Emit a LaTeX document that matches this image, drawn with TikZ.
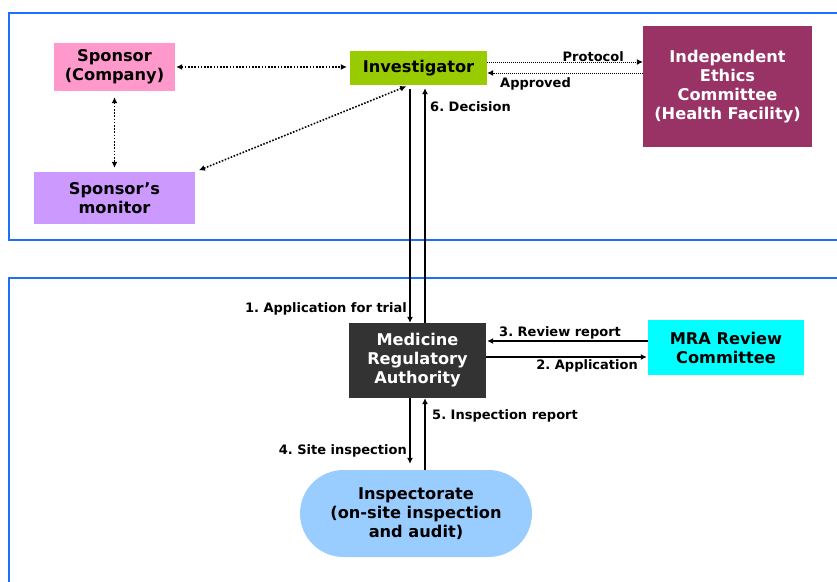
\documentclass[tikz,border=0pt]{standalone}
\usepackage{fontspec}
\setmainfont{DejaVu Sans}
\usetikzlibrary{arrows.meta}
\frenchspacing
\definecolor{frameblue}{RGB}{31,111,255}
\definecolor{sponsorpink}{HTML}{FF99CC}
\definecolor{monitorlilac}{HTML}{CC99FF}
\definecolor{invgreen}{HTML}{99CC00}
\definecolor{iecplum}{HTML}{993366}
\definecolor{mradark}{HTML}{333333}
\definecolor{reviewcyan}{HTML}{00FFFF}
\definecolor{inspblue}{HTML}{99CCFF}
\begin{document}
\begin{tikzpicture}[x=1pt,y=-1pt,
  box/.style={inner sep=0pt, align=center,
    font=\fontsize{16.2}{19}\selectfont\bfseries},
  lbl/.style={inner sep=0pt, font=\fontsize{13}{15}\selectfont\bfseries},
  tip/.style={-{Latex[length=6pt,width=6pt]}},
  dualtip/.style={{Latex[length=6pt,width=6pt]}-{Latex[length=6pt,width=6pt]}},
  heavydots/.style={dualtip, line width=1.6pt, dash pattern=on 1.6pt off 1.6pt},
  finedots/.style={tip, line width=0.9pt, dash pattern=on 1pt off 1pt},
  flow/.style={tip, line width=1.1pt},
  frame/.style={draw=frameblue, line width=2pt}]
\useasboundingbox (0,0) rectangle (837,581);

% two swim-lane frames (open to the right)
\draw[frame] (9,13) rectangle (860,240);
\draw[frame] (9,278) rectangle (860,600);

% parties
\node[box, fill=sponsorpink, minimum width=121pt, minimum height=48pt] (sponsor) at (114.5,67) {Sponsor\\(Company)};
\node[box, fill=monitorlilac, minimum width=161pt, minimum height=52pt] (monitor) at (114.5,198) {Sponsor’s\\monitor};
\node[box, fill=invgreen, minimum width=137pt, minimum height=34pt] (inv) at (418.5,68) {Investigator};
\node[box, fill=iecplum, text=white, minimum width=169pt, minimum height=121pt] (iec) at (727.5,86.5) {Independent\\Ethics\\Committee\\(Health Facility)};
\node[box, fill=mradark, text=white, minimum width=137pt, minimum height=75pt] (mra) at (417.5,360.5) {Medicine\\Regulatory\\Authority};
\node[box, fill=reviewcyan, minimum width=156pt, minimum height=55pt] (mrc) at (726,347.5) {MRA Review\\Committee};
\node[box, fill=inspblue, minimum width=232pt, minimum height=87pt, rounded corners=43.5pt] (insp) at (416,513.5) {Inspectorate\\(on-site inspection\\and audit)};

% lane x-positions and y-levels for parallel connectors
\coordinate (xdown) at (410,0);
\coordinate (xup) at (425,0);
\coordinate (yprot) at (0,62);
\coordinate (yappr) at (0,73);
\coordinate (yrev) at (0,341);
\coordinate (yapp) at (0,357);

% sponsor-side communication
\draw[heavydots, shorten <=1pt, shorten >=3pt] (sponsor.east |- 0,67) -- (inv.west |- 0,67);
\draw[heavydots, shorten <=6pt, shorten >=4pt] (sponsor.south) -- (monitor.north);
\draw[heavydots, shorten <=3pt, shorten >=4pt] ([xshift=-9.5pt]inv.south) -- (monitor.north east);

% ethics committee
\draw[finedots] (inv.east |- yprot) -- (iec.west |- yprot);
\draw[finedots] (iec.west |- yappr) -- (inv.east |- yappr);
\node[lbl, anchor=base east] (lprot) at (624,61) {Protocol};
\node[lbl, anchor=base west] (lappr) at (500,87) {Approved};

% investigator <-> authority
\draw[flow, shorten <=4pt] (inv.south -| xdown) -- (mra.north -| xdown);
\draw[flow, shorten >=3pt] (mra.north -| xup) -- (inv.south -| xup);
\node[lbl, anchor=base east] (lapp1) at (407,312) {1. Application for trial};
\node[lbl, anchor=base west] (ldec) at (430,111) {6. Decision};

% authority <-> review committee
\draw[flow, shorten >=1pt] (mrc.west |- yrev) -- (mra.east |- yrev);
\draw[flow, shorten >=1pt] (mra.east |- yapp) -- (mrc.west |- yapp);
\node[lbl, anchor=base west] (lrev) at (499,336) {3. Review report};
\node[lbl, anchor=base east] (lapp2) at (638,369) {2. Application};

% authority <-> inspectorate
\draw[flow, shorten >=6pt] (mra.south -| xdown) -- (insp.north -| xdown);
\draw[flow] (insp.north -| xup) -- (mra.south -| xup);
\node[lbl, anchor=base east] (lsite) at (407,454) {4. Site inspection};
\node[lbl, anchor=base west] (lrep) at (432,419) {5. Inspection report};
\end{tikzpicture}
\end{document}
